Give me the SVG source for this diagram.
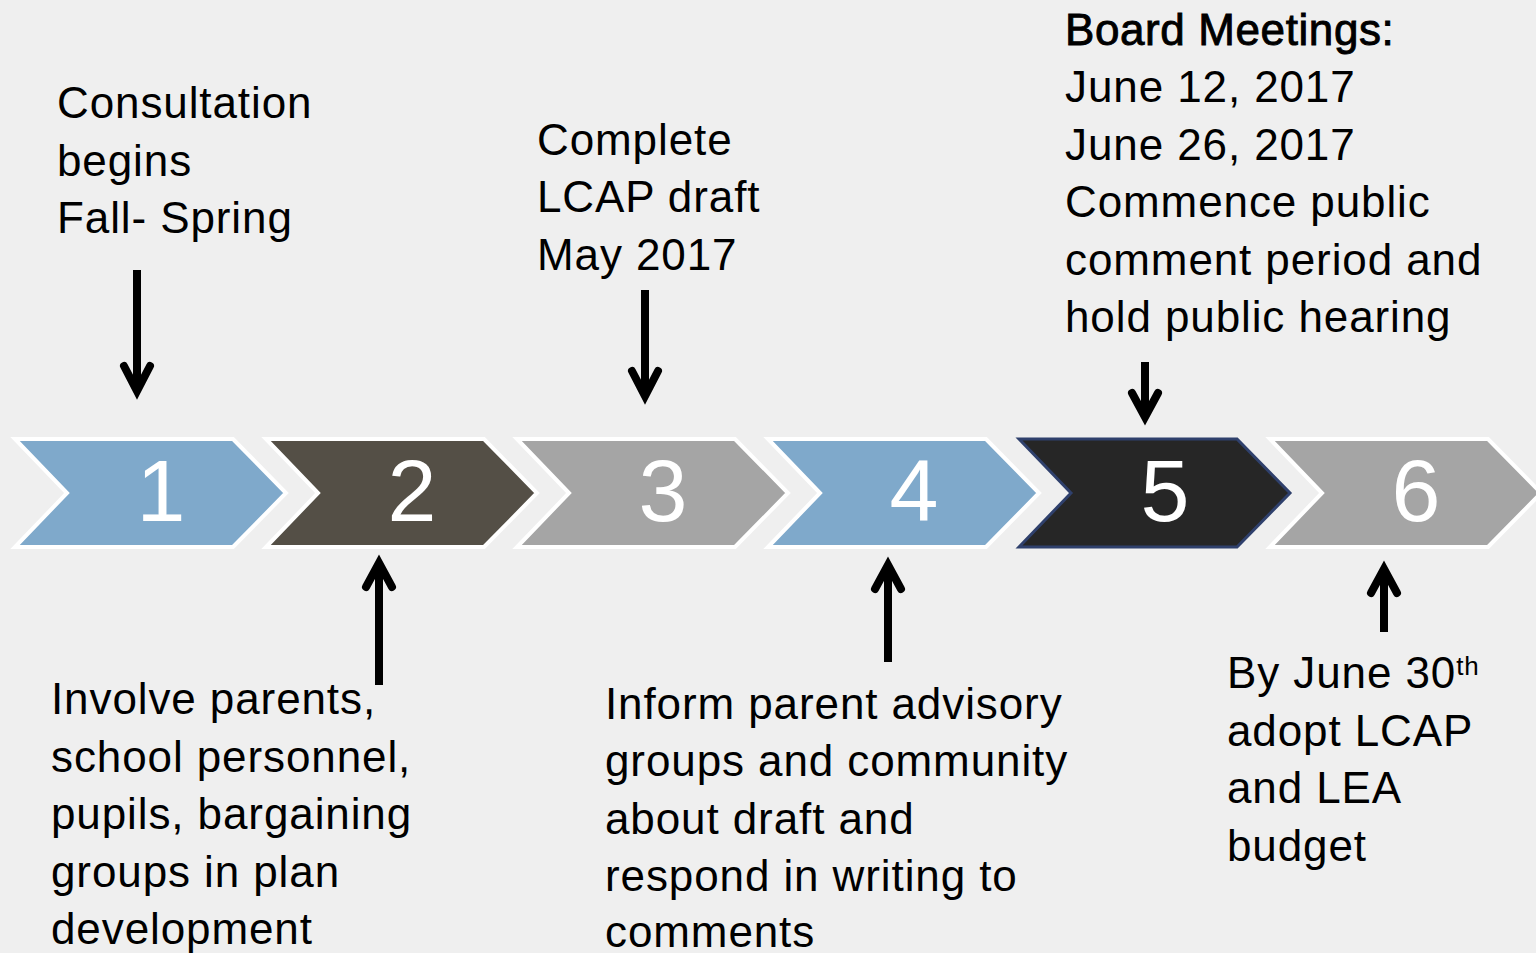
<svg xmlns="http://www.w3.org/2000/svg" width="1536" height="953" viewBox="0 0 1536 953">
<style>
.t{font-family:"Liberation Sans",Arial,sans-serif;font-size:44px;fill:#000;letter-spacing:0.9px}
.b{stroke:#000;stroke-width:0.9px;letter-spacing:0.6px}
.num{font-family:"Liberation Sans",Arial,sans-serif;font-size:88px;fill:#fff;text-anchor:middle}
.chev{stroke:#fff;stroke-width:4;stroke-linejoin:miter}
.arr{fill:none;stroke:#000;stroke-width:8;stroke-linejoin:miter;stroke-linecap:butt}
.wing{fill:none;stroke:#000;stroke-width:8;stroke-linejoin:miter;stroke-linecap:round}
</style>
<rect x="0" y="0" width="1536" height="953" fill="#efefef"/>
<g id="step1">
<polygon class="chev" fill="#7fa9cb" points="15,439 233,439 286,493 233,547 15,547 67,493"/>
<text class="num" x="161" y="521">1</text>
</g>
<g id="step2">
<polygon class="chev" fill="#544f46" points="266,439 484,439 537,493 484,547 266,547 318,493"/>
<text class="num" x="412" y="521">2</text>
</g>
<g id="step3">
<polygon class="chev" fill="#a5a5a5" points="517,439 735,439 788,493 735,547 517,547 569,493"/>
<text class="num" x="663" y="521">3</text>
</g>
<g id="step4">
<polygon class="chev" fill="#7fa9cb" points="768,439 986,439 1039,493 986,547 768,547 820,493"/>
<text class="num" x="914" y="521">4</text>
</g>
<g id="step5">
<polygon fill="#262626" stroke="#2f406c" stroke-width="3" points="1019,439 1237,439 1290,493 1237,547 1019,547 1071,493"/>
<text class="num" x="1165" y="521">5</text>
</g>
<g id="step6">
<polygon class="chev" fill="#a5a5a5" points="1270,439 1488,439 1541,493 1488,547 1270,547 1322,493"/>
<text class="num" x="1416" y="521">6</text>
</g>
<g id="connectors">
<line class="arr" x1="137" y1="270" x2="137" y2="390"/>
<polyline class="wing" points="124,366 137,391 150,366"/>
<line class="arr" x1="379" y1="685" x2="379" y2="564"/>
<polyline class="wing" points="366,587 379,563 392,587"/>
<line class="arr" x1="645" y1="290" x2="645" y2="395"/>
<polyline class="wing" points="632,371 645,396 658,371"/>
<line class="arr" x1="888" y1="662" x2="888" y2="566"/>
<polyline class="wing" points="875,589 888,565 901,589"/>
<line class="arr" x1="1145" y1="362" x2="1145" y2="416"/>
<polyline class="wing" points="1132,393 1145,417 1158,393"/>
<line class="arr" x1="1384" y1="632" x2="1384" y2="570"/>
<polyline class="wing" points="1371,593 1384,569 1397,593"/>
</g>
<g id="label1">
<text class="t" x="57" y="118">Consultation</text>
<text class="t" x="57" y="176">begins</text>
<text class="t" x="57" y="233">Fall- Spring</text>
</g>
<g id="label2">
<text class="t" x="51" y="714">Involve parents,</text>
<text class="t" x="51" y="772">school personnel,</text>
<text class="t" x="51" y="829">pupils, bargaining</text>
<text class="t" x="51" y="887">groups in plan</text>
<text class="t" x="51" y="944">development</text>
</g>
<g id="label3">
<text class="t" x="537" y="155">Complete</text>
<text class="t" x="537" y="212">LCAP draft</text>
<text class="t" x="537" y="270">May 2017</text>
</g>
<g id="label4">
<text class="t" x="605" y="719">Inform parent advisory</text>
<text class="t" x="605" y="776">groups and community</text>
<text class="t" x="605" y="834">about draft and</text>
<text class="t" x="605" y="891">respond in writing to</text>
<text class="t" x="605" y="947">comments</text>
</g>
<g id="label5">
<text class="t b" x="1065" y="45">Board Meetings:</text>
<text class="t" x="1065" y="102">June 12, 2017</text>
<text class="t" x="1065" y="160">June 26, 2017</text>
<text class="t" x="1065" y="217">Commence public</text>
<text class="t" x="1065" y="275">comment period and</text>
<text class="t" x="1065" y="332">hold public hearing</text>
</g>
<g id="label6">
<text class="t" x="1227" y="688">By June 30<tspan font-size="26" dy="-13">th</tspan></text>
<text class="t" x="1227" y="746">adopt LCAP</text>
<text class="t" x="1227" y="803">and LEA</text>
<text class="t" x="1227" y="861">budget</text>
</g>
</svg>
